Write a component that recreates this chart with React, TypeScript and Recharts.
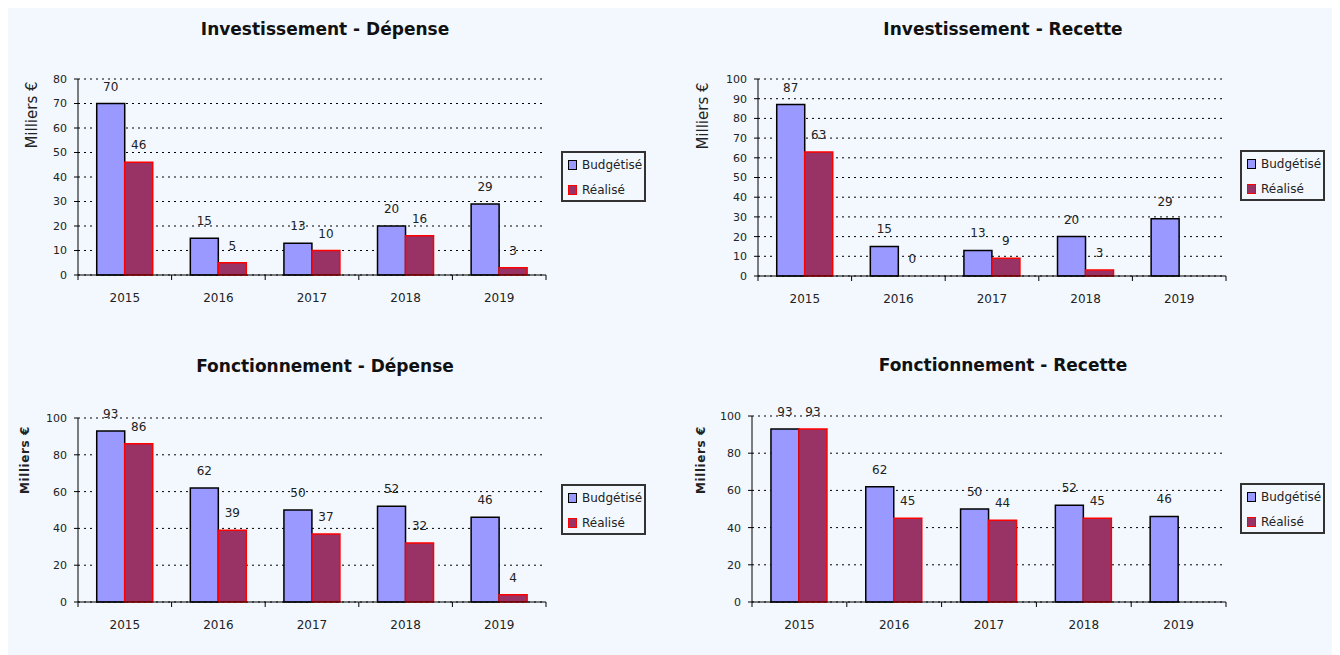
import { BarChart, Bar, XAxis, YAxis, CartesianGrid, LabelList, Rectangle } from 'recharts'

// Budget vs actual, in thousands of euros
const years = ['2015', '2016', '2017', '2018', '2019']

const invDepenseBudget = [70, 15, 13, 20, 29]
const invDepenseReal = [46, 5, 10, 16, 3]

const invRecetteBudget = [87, 15, 13, 20, 29]
const invRecetteReal: (number | null)[] = [63, 0, 9, 3, null]

const fonDepenseBudget = [93, 62, 50, 52, 46]
const fonDepenseReal = [86, 39, 37, 32, 4]

const fonRecetteBudget = [93, 62, 50, 52, 46]
const fonRecetteReal: (number | null)[] = [93, 45, 44, 45, null]

const ticks80 = [0, 10, 20, 30, 40, 50, 60, 70, 80]
const ticks100by10 = [0, 10, 20, 30, 40, 50, 60, 70, 80, 90, 100]
const ticks100by20 = [0, 20, 40, 60, 80, 100]

const BUDGET_LABEL = 'Budgétisé'
const REAL_LABEL = 'Réalisé'
const AXIS_LABEL = 'Milliers €'

const BUDGET_FILL = '#9999FF'
const REAL_FILL = '#993366'
const REAL_STROKE = '#FF0000'
const TEXT = '#222'

const Y_AXIS_W = 70
const X_AXIS_H = 30

function YearTick({ x, y, payload, index, band }: any) {
  const axisY = y - 5
  const edge = x - band / 2
  return (
    <g>
      <line x1={edge} x2={edge} y1={axisY} y2={axisY + 5} stroke="#000" />
      {index === years.length - 1 && (
        <line x1={x + band / 2} x2={x + band / 2} y1={axisY} y2={axisY + 5} stroke="#000" />
      )}
      <text x={x} y={axisY + 27} textAnchor="middle" fontSize={12} fill={TEXT}>
        {payload.value}
      </text>
    </g>
  )
}

// value above each bar, zero included
function ValueLabel(props: any) {
  const box = props.viewBox ?? props
  const { value } = props
  if (value == null || box == null) return null
  const cx = box.x + box.width / 2
  const top = Math.min(box.y, box.y + box.height)
  return (
    <text x={cx} y={top - 13} textAnchor="middle" fontSize={12} fill={TEXT}>
      {value}
    </text>
  )
}

// a zero bar keeps its label but draws no box
const zeroPoint = (value: any) => (value === 0 ? 0.01 : 0)
const BarShape = (props: any) =>
  Math.abs(props.height ?? 0) < 0.5 ? <g /> : <Rectangle {...props} />

function Legend({ left, top }: { left: number; top: number }) {
  const row = (label: string, fill: string, stroke: string, y: number) => (
    <div style={{ position: 'absolute', left: 5, top: y - 8, height: 16, display: 'flex', alignItems: 'center' }}>
      <span
        style={{
          display: 'inline-block',
          width: 7,
          height: 8,
          background: fill,
          border: `1.5px solid ${stroke}`,
          marginRight: 5,
        }}
      />
      <span style={{ fontSize: 12, color: TEXT }}>{label}</span>
    </div>
  )
  return (
    <div
      style={{
        position: 'absolute',
        left,
        top,
        width: 81,
        height: 47,
        border: '2px solid #333',
      }}
    >
      {row(BUDGET_LABEL, BUDGET_FILL, '#000', 12)}
      {row(REAL_LABEL, REAL_FILL, REAL_STROKE, 37)}
    </div>
  )
}

interface PanelProps {
  title: string
  budget: (number | null)[]
  real: (number | null)[]
  ticks: number[]
  left: number
  top: number
  width: number
  height: number
  marginTop: number
  titleX: number
  titleTop: number
  labelX: number
  labelY: number
  boldLabel?: boolean
  legendLeft: number
  legendTop: number
}

function Panel(p: PanelProps) {
  const data = years.map((year, i) => ({ year, budget: p.budget[i], real: p.real[i] }))
  const margin = { top: p.marginTop, right: 2, bottom: 5, left: 0 }
  const band = (p.width - margin.left - margin.right - Y_AXIS_W) / years.length
  const max = p.ticks[p.ticks.length - 1]

  return (
    <>
      <div
        style={{
          position: 'absolute',
          left: p.titleX,
          top: p.titleTop,
          transform: 'translateX(-50%)',
          fontSize: 17,
          lineHeight: '20px',
          fontWeight: 'bold',
          color: '#111',
          whiteSpace: 'nowrap',
        }}
      >
        {p.title}
      </div>
      <div
        style={{
          position: 'absolute',
          left: p.labelX,
          top: p.labelY,
          transform: 'translate(-50%, -50%) rotate(-90deg)',
          fontSize: p.boldLabel ? 12 : 15,
          fontWeight: p.boldLabel ? 'bold' : 'normal',
          letterSpacing: p.boldLabel ? 0.6 : 0,
          color: TEXT,
          whiteSpace: 'nowrap',
        }}
      >
        {AXIS_LABEL}
      </div>
      <div style={{ position: 'absolute', left: p.left, top: p.top }}>
        <BarChart
          width={p.width}
          height={p.height}
          data={data}
          margin={margin}
          barGap={0}
          barCategoryGap="20%"
        >
          <CartesianGrid vertical={false} stroke="#000" strokeDasharray="2 4" />
          <XAxis
            dataKey="year"
            height={X_AXIS_H}
            axisLine={{ stroke: '#000' }}
            tickLine={false}
            tickSize={5}
            tickMargin={0}
            interval={0}
            tick={(props: any) => <YearTick {...props} band={band} />}
          />
          <YAxis
            width={Y_AXIS_W}
            domain={[0, max]}
            ticks={p.ticks}
            interval={0}
            axisLine={{ stroke: '#000' }}
            tickLine={{ stroke: '#000' }}
            tickSize={4}
            tickMargin={7}
            tick={{ fontSize: 11, fill: TEXT }}
          />
          <Bar
            dataKey="budget"
            name={BUDGET_LABEL}
            fill={BUDGET_FILL}
            stroke="#000"
            strokeWidth={1.5}
            isAnimationActive={false}
          >
            <LabelList dataKey="budget" content={ValueLabel} />
          </Bar>
          <Bar
            dataKey="real"
            name={REAL_LABEL}
            fill={REAL_FILL}
            stroke={REAL_STROKE}
            strokeWidth={1.5}
            minPointSize={zeroPoint}
            shape={BarShape}
            isAnimationActive={false}
          >
            <LabelList dataKey="real" content={ValueLabel} />
          </Bar>
        </BarChart>
      </div>
      <Legend left={p.legendLeft} top={p.legendTop} />
    </>
  )
}

export default function App() {
  return (
    <div
      style={{
        position: 'relative',
        width: 1332,
        height: 647,
        background: '#F3F8FE',
        fontFamily: '"DejaVu Sans", Verdana, sans-serif',
      }}
    >
      <Panel
        title="Investissement - Dépense"
        budget={invDepenseBudget}
        real={invDepenseReal}
        ticks={ticks80}
        left={0}
        top={52}
        width={540}
        height={250}
        marginTop={19}
        titleX={317}
        titleTop={11}
        labelX={24}
        labelY={107}
        legendLeft={553}
        legendTop={143}
      />
      <Panel
        title="Investissement - Recette"
        budget={invRecetteBudget}
        real={invRecetteReal}
        ticks={ticks100by10}
        left={680}
        top={52}
        width={540}
        height={251}
        marginTop={19}
        titleX={995}
        titleTop={11}
        labelX={695}
        labelY={108}
        legendLeft={1232}
        legendTop={142}
      />
      <Panel
        title="Fonctionnement - Dépense"
        budget={fonDepenseBudget}
        real={fonDepenseReal}
        ticks={ticks100by20}
        left={0}
        top={390}
        width={540}
        height={239}
        marginTop={20}
        titleX={317}
        titleTop={348}
        labelX={17}
        labelY={452}
        boldLabel
        legendLeft={553}
        legendTop={476}
      />
      <Panel
        title="Fonctionnement - Recette"
        budget={fonRecetteBudget}
        real={fonRecetteReal}
        ticks={ticks100by20}
        left={674}
        top={388}
        width={546}
        height={241}
        marginTop={20}
        titleX={995}
        titleTop={347}
        labelX={693}
        labelY={452}
        boldLabel
        legendLeft={1232}
        legendTop={475}
      />
    </div>
  )
}
